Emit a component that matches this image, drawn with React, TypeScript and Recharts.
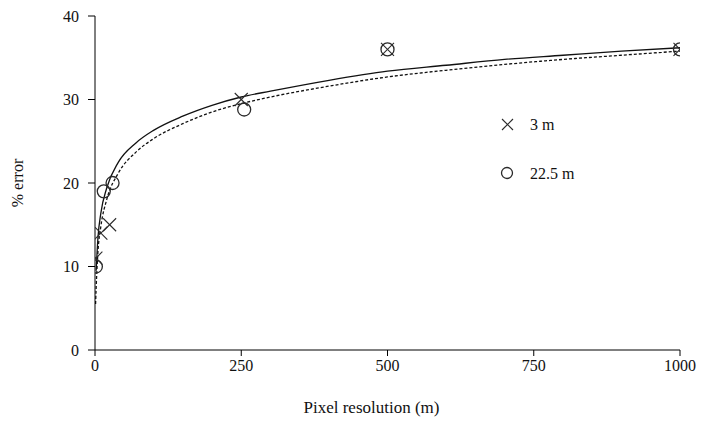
import React from 'react';
import { ComposedChart, Line, Scatter, XAxis, YAxis } from 'recharts';

// Measured points (pixel resolution in m, % error)
const series3mX = [1.5, 10, 25, 250, 500, 1000];
const series3mY = [11, 14, 15, 30, 36, 36];
const series22X = [1.5, 15, 30, 255, 500, 1000];
const series22Y = [10, 19, 20, 28.8, 36, 36];

// Trend curves
const solidX = [2, 5, 10, 20, 40, 70, 100, 150, 200, 250, 300, 400, 500, 600, 700, 800, 900, 1000];
const solidY = [9.5, 13.4, 16.4, 19.4, 22.5, 24.8, 26.3, 28.0, 29.3, 30.3, 31.0, 32.3, 33.4, 34.1, 34.8, 35.3, 35.8, 36.2];
const dashX = [1, 2, 5, 10, 20, 40, 70, 100, 150, 200, 250, 300, 400, 500, 600, 700, 800, 900, 1000];
const dashY = [5.5, 7.5, 11.7, 14.8, 18.0, 21.2, 23.7, 25.3, 27.1, 28.5, 29.5, 30.3, 31.6, 32.7, 33.5, 34.2, 34.8, 35.3, 35.8];

const xTicks = [0, 250, 500, 750, 1000];
const yTicks = [0, 10, 20, 30, 40];
const legendLabels = ['3 m', '22.5 m'];

const zip = (xs: number[], ys: number[]) => xs.map((x, i) => ({ x, y: ys[i] }));

const FONT = '"Liberation Serif", serif';
const INK = '#2a2a2a';

const CrossShape = (props: any) => {
  const { cx, cy } = props;
  const r = 6.5;
  return (
    <g stroke={INK} strokeWidth={1.1} fill="none">
      <line x1={cx - r} y1={cy - r} x2={cx + r} y2={cy + r} />
      <line x1={cx - r} y1={cy + r} x2={cx + r} y2={cy - r} />
    </g>
  );
};

const CircleShape = (props: any) => {
  const { cx, cy } = props;
  return <circle cx={cx} cy={cy} r={6.5} stroke={INK} strokeWidth={1.3} fill="none" />;
};

const LegendBox = () => (
  <svg width={120} height={80} style={{ position: 'absolute', left: 497, top: 115 }}>
    <g stroke={INK} strokeWidth={1.1} fill="none">
      <line x1={5} y1={4} x2={16} y2={15} />
      <line x1={5} y1={15} x2={16} y2={4} />
      <circle cx={10} cy={58} r={5.5} strokeWidth={1.3} />
    </g>
    <text x={33} y={15} fontFamily={FONT} fontSize={16} fill="#111">{legendLabels[0]}</text>
    <text x={33} y={64} fontFamily={FONT} fontSize={16} fill="#111">{legendLabels[1]}</text>
  </svg>
);

export default function App() {
  return (
    <div style={{ position: 'absolute', left: 0, top: 0, width: 705, height: 425, background: '#fff', fontFamily: FONT }}>
      <ComposedChart width={705} height={425} margin={{ top: 16, right: 25, bottom: 45, left: 0 }}>
        <XAxis
          type="number"
          dataKey="x"
          domain={[0, 1000]}
          ticks={xTicks}
          allowDataOverflow
          height={30}
          tickSize={6}
          tickMargin={4}
          stroke="#000"
          tick={{ fontFamily: FONT, fontSize: 16, fill: '#111' }}
          label={{
            content: ({ viewBox }: any) => (
              <text
                x={viewBox.x + viewBox.width / 2 - 16}
                y={viewBox.y + 63}
                textAnchor="middle"
                fontFamily={FONT}
                fontSize={17}
                fill="#111"
              >
                Pixel resolution (m)
              </text>
            ),
          }}
        />
        <YAxis
          type="number"
          dataKey="y"
          domain={[0, 40]}
          ticks={yTicks}
          width={95}
          tickSize={7}
          tickMargin={9}
          stroke="#000"
          tick={{ fontFamily: FONT, fontSize: 16, fill: '#111' }}
          label={{
            content: ({ viewBox }: any) => (
              <text
                x={17}
                y={viewBox.y + viewBox.height / 2}
                transform={`rotate(-90, 17, ${viewBox.y + viewBox.height / 2})`}
                textAnchor="middle"
                dominantBaseline="central"
                fontFamily={FONT}
                fontSize={16}
                fill="#111"
              >
                % error
              </text>
            ),
          }}
        />
        <Line
          data={zip(solidX, solidY)}
          dataKey="y"
          type="monotone"
          stroke="#111"
          strokeWidth={1.3}
          dot={false}
          activeDot={false}
          isAnimationActive={false}
          legendType="none"
        />
        <Line
          data={zip(dashX, dashY)}
          dataKey="y"
          type="monotone"
          stroke="#111"
          strokeWidth={1.3}
          strokeDasharray="3 2"
          dot={false}
          activeDot={false}
          isAnimationActive={false}
          legendType="none"
        />
        <Scatter data={zip(series3mX, series3mY)} dataKey="y" shape={<CrossShape />} isAnimationActive={false} />
        <Scatter data={zip(series22X, series22Y)} dataKey="y" shape={<CircleShape />} isAnimationActive={false} />
      </ComposedChart>
      <LegendBox />
    </div>
  );
}
